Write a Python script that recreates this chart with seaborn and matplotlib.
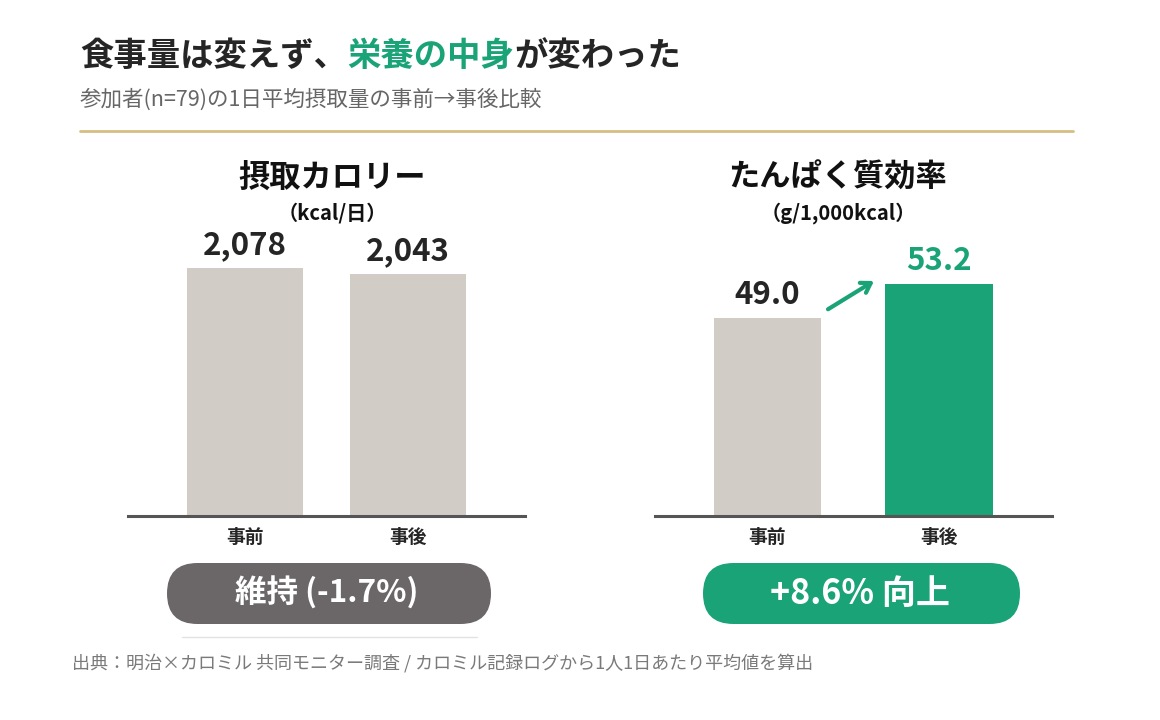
import matplotlib
matplotlib.use("Agg")
import matplotlib.pyplot as plt
from matplotlib.patches import FancyBboxPatch
import seaborn as sns
import pandas as pd

# data
periods = ["事前", "事後"]
calories = [2078, 2043]
protein_eff = [49.0, 53.2]
calorie_labels = ["2,078", "2,043"]
protein_labels = ["49.0", "53.2"]
calorie_badge = "維持 (-1.7%)"
protein_badge = "+8.6% 向上"

title_parts = ["食事量は変えず、", "栄養の中身", "が変わった"]
subtitle = "参加者(n=79)の1日平均摂取量の事前→事後比較"
panel_titles = ["摂取カロリー", "たんぱく質効率"]
panel_units = ["（kcal/日）", "（g/1,000kcal）"]
note = "出典：明治×カロミル 共同モニター調査 / カロミル記録ログから1人1日あたり平均値を算出"

GREEN = "#1aa377"
GRAY_BAR = "#d1cdc6"
DARK = "#252525"
PILL_GRAY = "#6b6769"

sns.set_theme(style="white")
plt.rcParams['font.family'] = ['Noto Sans CJK JP', 'DejaVu Sans']

W, H = 1160, 720
fig = plt.figure(figsize=(11.6, 7.2), dpi=100)
fig.patch.set_facecolor("white")

# overlay in pixel coords for text / decorations
ov = fig.add_axes([0, 0, 1, 1])
ov.set_xlim(0, W)
ov.set_ylim(H, 0)
ov.axis("off")


def px_axes(x0, x1, ytop, ybot):
    return fig.add_axes([x0 / W, 1 - ybot / H, (x1 - x0) / W, (ybot - ytop) / H])


ax1 = px_axes(128, 525, 230, 515.5)
ax2 = px_axes(655, 1052, 230, 515.5)

df_cal = pd.DataFrame({"period": periods, "value": calories})
df_pro = pd.DataFrame({"period": periods, "value": protein_eff})

sns.barplot(data=df_cal, x="period", y="value", hue="period",
            palette=[GRAY_BAR, GRAY_BAR], width=0.707, linewidth=0,
            saturation=1, legend=False, ax=ax1)
sns.barplot(data=df_pro, x="period", y="value", hue="period",
            palette=[GRAY_BAR, GREEN], width=0.627, linewidth=0,
            saturation=1, legend=False, ax=ax2)

ax1.set_xlim(-0.717, 1.716)
ax1.set_ylim(701, 2287)
ax2.set_xlim(-0.655, 1.658)
ax2.set_ylim(24.86, 59.8)

for ax in (ax1, ax2):
    ax.set_facecolor("none")
    sns.despine(ax=ax, left=True)
    ax.spines["bottom"].set_color("#555555")
    ax.spines["bottom"].set_linewidth(2.2)
    ax.set_yticks([])
    ax.set_xlabel("")
    ax.set_ylabel("")
    ax.tick_params(axis="x", length=0, pad=9, labelsize=13.5, colors=DARK)
    for lab in ax.get_xticklabels():
        lab.set_fontweight("bold")

for i, (v, lbl) in enumerate(zip(calories, calorie_labels)):
    ax1.annotate(lbl, xy=(i, v), xytext=(0, 10), textcoords="offset points",
                 ha="center", va="baseline", fontsize=22.5, fontweight="bold",
                 color=DARK, annotation_clip=False)
for i, (v, lbl) in enumerate(zip(protein_eff, protein_labels)):
    ax2.annotate(lbl, xy=(i, v), xytext=(0, 10), textcoords="offset points",
                 ha="center", va="baseline", fontsize=22.5, fontweight="bold",
                 color=GREEN if i == 1 else DARK, annotation_clip=False)

# arrow between the protein bars
ax2.annotate("", xy=(0.621, protein_eff[1] + 0.36), xytext=(0.353, protein_eff[0] + 1.1),
             arrowprops=dict(arrowstyle="->,head_length=0.55,head_width=0.35",
                             lw=3, color=GREEN, shrinkA=0, shrinkB=0),
             annotation_clip=False)

# title with green highlight
t = ov.text(80, 66, title_parts[0], fontsize=24, fontweight="bold", color=DARK, va="baseline")
t = ov.annotate(title_parts[1], xy=(1, 0), xycoords=t, va="bottom", ha="left",
                fontsize=24, fontweight="bold", color=GREEN)
ov.annotate(title_parts[2], xy=(1, 0), xycoords=t, va="bottom", ha="left",
            fontsize=24, fontweight="bold", color=DARK)
ov.text(80, 100, subtitle, fontsize=15.5, color="#666666", va="center")
ov.plot([80, 1073], [131, 131], color="#d6bd84", lw=2)

# panel headings
for cx, ttl, unit in zip([332, 838], panel_titles, panel_units):
    ov.text(cx, 178, ttl, ha="center", va="center", fontsize=22.5,
            fontweight="bold", color="#111111")
    ov.text(cx, 213, unit, ha="center", va="center", fontsize=14.5,
            fontweight="bold", color="#111111")

# badges
for (x0, w, col, txt, fs) in [(167, 324, PILL_GRAY, calorie_badge, 22.7),
                              (703, 317, GREEN, protein_badge, 24.5)]:
    ov.add_patch(FancyBboxPatch((x0, 563), w, 61,
                                boxstyle="round,pad=0,rounding_size=30.5",
                                fc=col, ec="none"))
    ov.text(x0 + w / 2 - 2, 593.5, txt, ha="center", va="center", fontsize=fs,
            fontweight="bold", color="white")
ov.plot([182, 477], [637, 637], color="#e2e2e2", lw=1)

ov.text(72, 663, note, fontsize=13, color="#7a7a7a", va="center")

fig.savefig("out.png", dpi=100)
